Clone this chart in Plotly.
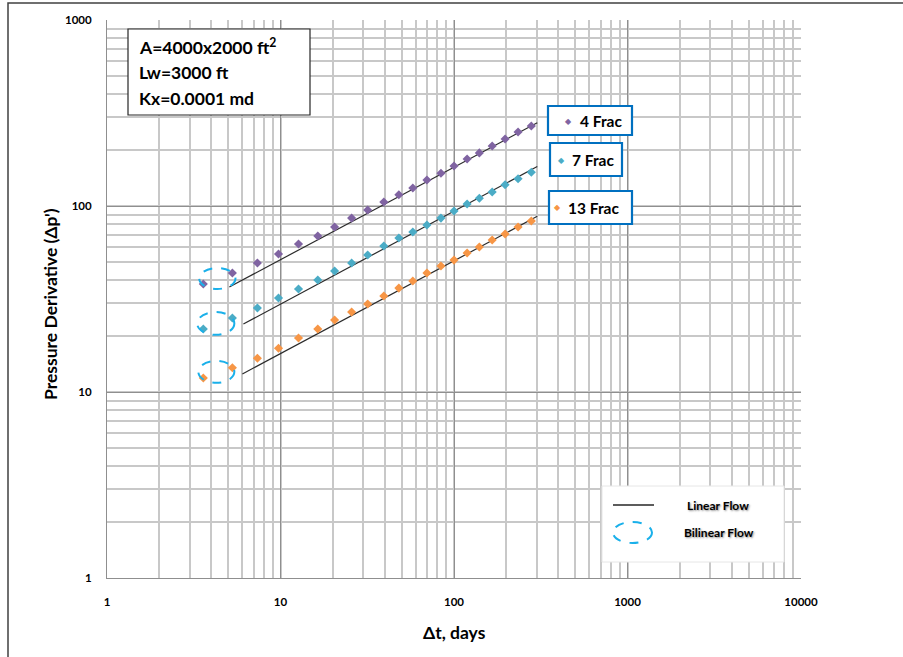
import plotly.graph_objects as go

# ---------------- data ----------------
dt_days = [3.59, 5.28, 7.36, 9.74, 12.7, 16.4, 20.5, 25.7, 31.8, 39.4, 48.1,
           57.9, 69.8, 84.1, 100, 119, 140, 166, 197, 234, 279]
frac4 = [38.1, 43.6, 49.4, 55.2, 62.5, 69.0, 77.1, 86.1, 95.1, 105, 115,
         125, 138, 150, 164, 179, 193, 210, 229, 250, 269]
frac7 = [21.8, 25.0, 28.3, 32.0, 35.8, 40.0, 44.7, 49.4, 54.5, 61.0, 67.3,
         72.5, 79.0, 86.1, 94.0, 102.5, 110, 119, 130, 140, 152]
frac13 = [11.9, 13.5, 15.2, 17.2, 19.5, 21.8, 24.4, 26.9, 29.7, 32.8, 36.2,
          39.5, 43.6, 47.6, 51.2, 55.9, 60.2, 65.6, 70.7, 77.1, 83.0]

# linear-flow (half-slope) lines: end points
line4_x = [5.07, 302]
line4_y = [36.7, 280]
line7_x = [6.11, 302]
line7_y = [23.2, 163]
line13_x = [6.03, 302]
line13_y = [12.5, 88.0]

# bilinear-flow ellipses (data extents)
ell_x = [[3.40, 5.50], [3.31, 5.42], [3.36, 5.42]]
ell_y = [[35.8, 46.4], [20.3, 26.9], [11.2, 14.7]]

x_tick_vals = [1, 10, 100, 1000, 10000]
x_tick_text = ["1", "10", "100", "1000", "10000"]
y_tick_vals = [1, 10, 100, 1000]
y_tick_text = ["1", "10", "100", "1000"]

series_names = ["4 Frac", "7 Frac", "13 Frac"]
colors = ["#8064A2", "#4BACC6", "#F79646"]

# ---------------- layout helpers ----------------
W, H = 903, 657
L, R, T, B = 107, 801, 20, 578


def px(x):
    return (x - L) / (R - L)


def py(y):
    return (B - y) / (B - T)


FONT = "Lato"

fig = go.Figure()

series = [frac4, frac7, frac13]
lines = [(line4_x, line4_y), (line7_x, line7_y), (line13_x, line13_y)]
for name, ys, col, (lx, ly) in zip(series_names, series, colors, lines):
    fig.add_trace(go.Scatter(x=lx, y=ly, mode="lines",
                             line=dict(color="#2b2b2b", width=1.2),
                             showlegend=False, hoverinfo="skip"))
    fig.add_trace(go.Scatter(x=dt_days, y=ys, mode="markers", name=name,
                             marker=dict(symbol="diamond", size=7, color=col),
                             showlegend=False))

shapes = []
# bilinear ellipses on data
for (x0, x1), (y0, y1) in zip(ell_x, ell_y):
    shapes.append(dict(type="circle", xref="x", yref="y", x0=x0, x1=x1, y0=y0, y1=y1,
                       line=dict(color="#1AB0EA", width=2, dash="dash")))

# outer frame
shapes.append(dict(type="rect", xref="paper", yref="paper",
                   x0=px(8), x1=px(930), y0=py(3), y1=py(700),
                   line=dict(color="#404040", width=1.5), layer="above"))

# parameter box
shapes.append(dict(type="rect", xref="paper", yref="paper",
                   x0=px(128), x1=px(310), y0=py(29), y1=py(115),
                   fillcolor="white", line=dict(color="#262626", width=1.2), layer="above"))

# series legend boxes
box_px = [(548, 632, 106, 135), (550, 622, 143, 176), (549, 632, 191, 224)]
for (x0, x1, y0, y1) in box_px:
    shapes.append(dict(type="rect", xref="paper", yref="paper",
                       x0=px(x0), x1=px(x1), y0=py(y0), y1=py(y1),
                       fillcolor="white", line=dict(color="#0070C0", width=2.2), layer="above"))

# flow legend box
shapes.append(dict(type="rect", xref="paper", yref="paper",
                   x0=px(602), x1=px(784), y0=py(486), y1=py(562),
                   fillcolor="white", line=dict(color="#e6e6e6", width=1), layer="above"))
shapes.append(dict(type="line", xref="paper", yref="paper",
                   x0=px(613), x1=px(654), y0=py(505), y1=py(505),
                   line=dict(color="#262626", width=1.3), layer="above"))
shapes.append(dict(type="circle", xref="paper", yref="paper",
                   x0=px(613), x1=px(652), y0=py(522), y1=py(543),
                   line=dict(color="#1AB0EA", width=2, dash="dash"), layer="above"))

annotations = []
param_lines = ["A=4000x2000 ft<sup>2</sup>", "Lw=3000 ft", "Kx=0.0001 md"]
param_y = [46, 73, 99]
for t, yy in zip(param_lines, param_y):
    annotations.append(dict(text=t, xref="paper", yref="paper", x=px(137), y=py(yy),
                            xanchor="left", yanchor="middle", showarrow=False,
                            font=dict(family=FONT, size=17.5, color="black", weight="bold")))

leg_marker_x = [568, 561, 557]
leg_text_x = [578, 570, 566]
leg_y = [121, 160, 208]
for name, col, mx, tx, yy in zip(series_names, colors, leg_marker_x, leg_text_x, leg_y):
    annotations.append(dict(text="◆", xref="paper", yref="paper", x=px(mx), y=py(yy),
                            xanchor="center", yanchor="middle", showarrow=False,
                            font=dict(family="DejaVu Sans", size=8, color=col)))
    annotations.append(dict(text=name, xref="paper", yref="paper", x=px(tx), y=py(yy),
                            xanchor="left", yanchor="middle", showarrow=False,
                            font=dict(family=FONT, size=15.5, color="black", weight="bold")))

for t, xx, yy in [("Linear Flow", 718, 505), ("Bilinear Flow", 719, 532)]:
    annotations.append(dict(text=t, xref="paper", yref="paper", x=px(xx), y=py(yy),
                            xanchor="center", yanchor="middle", showarrow=False,
                            font=dict(family=FONT, size=12, color="black", weight="bold",
                                      shadow="1px 1px 2px rgba(0,0,0,0.45)")))

# axis titles
annotations.append(dict(text="Pressure Derivative (Δp')", xref="paper", yref="paper",
                        x=px(51), y=py(304), textangle=-90, xanchor="center", yanchor="middle",
                        showarrow=False,
                        font=dict(family=FONT, size=17.5, color="black", weight="bold")))
annotations.append(dict(text="Δt, days", xref="paper", yref="paper",
                        x=px(454), y=py(632), xanchor="center", yanchor="middle",
                        showarrow=False,
                        font=dict(family=FONT, size=17.5, color="black", weight="bold")))

tickfont = dict(family=FONT, size=11.5, color="black", weight="bold")

fig.update_layout(
    width=W, height=H,
    margin=dict(l=L, r=W - R, t=T, b=H - B, pad=0),
    paper_bgcolor="white", plot_bgcolor="white",
    shapes=shapes, annotations=annotations,
    xaxis=dict(type="log", range=[0, 4], tickmode="array", tickvals=x_tick_vals,
               ticktext=x_tick_text, tickfont=tickfont, ticks="outside", ticklen=13,
               tickcolor="rgba(0,0,0,0)", showgrid=True, gridcolor="#8f8f8f", gridwidth=1,
               minor=dict(tickmode="linear", dtick="D1", showgrid=True,
                          gridcolor="#c8c8c8", gridwidth=1.5),
               showline=True, linecolor="#8f8f8f", linewidth=1, zeroline=False,
               fixedrange=True),
    yaxis=dict(type="log", range=[0, 3], tickmode="array", tickvals=y_tick_vals,
               ticktext=y_tick_text, tickfont=tickfont, ticks="outside", ticklen=12,
               tickcolor="rgba(0,0,0,0)", showgrid=True, gridcolor="#8f8f8f", gridwidth=1,
               minor=dict(tickmode="linear", dtick="D1", showgrid=True,
                          gridcolor="#c8c8c8", gridwidth=1.5),
               showline=True, linecolor="#8f8f8f", linewidth=1, zeroline=False,
               fixedrange=True),
    showlegend=False,
)

fig.write_html("out.html")
